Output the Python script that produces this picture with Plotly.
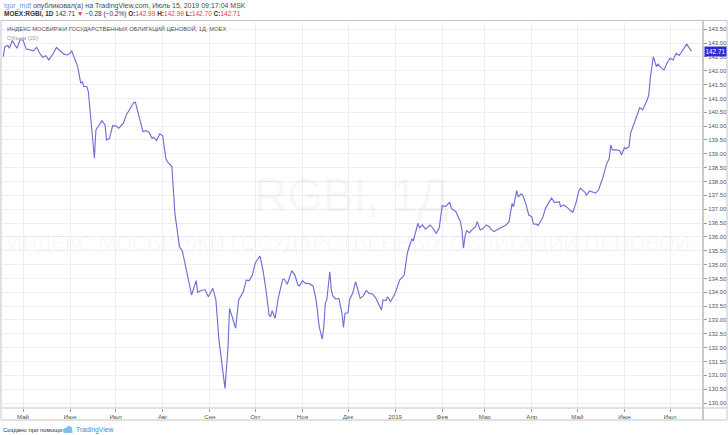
import plotly.graph_objects as go

# ---------------- data ----------------
dates_2018 = [
    "2018-04-18", "2018-04-19", "2018-04-21", "2018-04-22", "2018-04-24", "2018-04-26", "2018-04-27", "2018-04-29",
    "2018-05-01", "2018-05-03", "2018-05-06", "2018-05-08", "2018-05-10", "2018-05-12", "2018-05-14", "2018-05-16",
    "2018-05-18", "2018-05-21", "2018-05-23", "2018-05-25", "2018-05-28", "2018-05-30", "2018-06-01", "2018-06-02",
    "2018-06-04", "2018-06-06", "2018-06-08", "2018-06-09", "2018-06-10", "2018-06-12", "2018-06-13", "2018-06-15",
    "2018-06-17", "2018-06-18", "2018-06-20", "2018-06-22", "2018-06-24", "2018-06-25", "2018-06-27", "2018-06-29",
    "2018-07-01", "2018-07-03", "2018-07-05", "2018-07-06", "2018-07-08", "2018-07-10", "2018-07-13", "2018-07-14",
    "2018-07-17", "2018-07-19", "2018-07-21", "2018-07-23", "2018-07-25", "2018-07-26", "2018-07-28", "2018-07-30",
    "2018-08-01", "2018-08-03", "2018-08-04", "2018-08-07", "2018-08-09", "2018-08-12", "2018-08-14", "2018-08-17",
    "2018-08-20", "2018-08-23", "2018-08-24", "2018-08-27", "2018-08-29", "2018-08-31", "2018-09-03", "2018-09-05",
    "2018-09-07", "2018-09-11", "2018-09-13", "2018-09-14", "2018-09-18", "2018-09-20", "2018-09-23", "2018-09-25",
    "2018-09-27", "2018-09-29", "2018-10-01", "2018-10-04", "2018-10-06", "2018-10-08", "2018-10-10", "2018-10-11",
    "2018-10-12", "2018-10-14", "2018-10-16", "2018-10-19", "2018-10-20", "2018-10-22", "2018-10-25", "2018-10-27",
    "2018-10-29", "2018-10-30", "2018-11-01", "2018-11-03", "2018-11-05", "2018-11-08", "2018-11-10", "2018-11-12",
    "2018-11-14", "2018-11-15", "2018-11-16", "2018-11-17", "2018-11-19", "2018-11-20", "2018-11-21", "2018-11-23",
    "2018-11-25", "2018-11-27", "2018-11-28", "2018-11-29", "2018-12-01", "2018-12-02", "2018-12-04", "2018-12-06",
    "2018-12-07", "2018-12-09", "2018-12-11", "2018-12-13", "2018-12-15", "2018-12-17", "2018-12-19", "2018-12-21",
    "2018-12-23", "2018-12-24", "2018-12-26", "2018-12-27", "2018-12-29",
]
values_2018 = [
    142.51, 142.87, 142.91, 142.81, 143.09, 142.93, 142.81, 143.11,
    143.11, 142.79, 142.75, 142.72, 142.85, 142.63, 142.49, 142.54,
    142.39, 142.63, 142.84, 142.73, 142.60, 142.57, 142.63, 142.72,
    142.45, 142.15, 141.55, 141.61, 141.43, 141.43, 141.25, 140.04,
    138.84, 139.86, 140.04, 140.19, 140.04, 139.50, 139.56, 140.02,
    140.01, 139.92, 140.04, 140.10, 140.40, 140.59, 140.86, 140.86,
    140.16, 139.80, 139.84, 139.77, 139.56, 139.60, 139.48, 139.72,
    139.65, 138.84, 138.72, 138.54, 136.85, 135.65, 135.47, 134.69,
    133.90, 134.42, 134.00, 134.08, 134.08, 133.84, 134.14, 133.72,
    132.28, 130.53, 132.03, 133.42, 132.70, 133.72, 134.02, 134.44,
    134.42, 134.62, 135.07, 135.31, 134.80, 134.08, 133.18, 133.12,
    133.33, 133.06, 133.78, 134.47, 134.47, 134.29, 134.78, 134.62,
    134.26, 134.23, 134.42, 134.32, 134.32, 134.23, 133.72, 132.76,
    132.31, 132.73, 133.60, 133.72, 134.74, 134.08, 133.87, 133.75,
    133.78, 133.24, 132.73, 133.24, 133.26, 133.72, 133.96, 134.38,
    134.20, 133.78, 133.87, 134.06, 133.96, 133.94, 133.82, 133.60,
    133.36, 133.72, 133.70, 133.84, 133.66,
]
dates_2019 = [
    "2019-01-01", "2019-01-02", "2019-01-04", "2019-01-07", "2019-01-09", "2019-01-10", "2019-01-12", "2019-01-13",
    "2019-01-16", "2019-01-17", "2019-01-19", "2019-01-21", "2019-01-24", "2019-01-26", "2019-01-28", "2019-01-30",
    "2019-02-01", "2019-02-03", "2019-02-05", "2019-02-06", "2019-02-07", "2019-02-09", "2019-02-10", "2019-02-13",
    "2019-02-14", "2019-02-15", "2019-02-16", "2019-02-17", "2019-02-19", "2019-02-21", "2019-02-23", "2019-02-24",
    "2019-02-26", "2019-02-28", "2019-03-02", "2019-03-04", "2019-03-05", "2019-03-07", "2019-03-11", "2019-03-15",
    "2019-03-17", "2019-03-19", "2019-03-20", "2019-03-22", "2019-03-23", "2019-03-25", "2019-03-26", "2019-03-28",
    "2019-03-30", "2019-04-01", "2019-04-02", "2019-04-04", "2019-04-05", "2019-04-08", "2019-04-10", "2019-04-14",
    "2019-04-16", "2019-04-19", "2019-04-20", "2019-04-22", "2019-04-25", "2019-04-26", "2019-04-28", "2019-04-30",
    "2019-05-02", "2019-05-03", "2019-05-06", "2019-05-07", "2019-05-09", "2019-05-11", "2019-05-13", "2019-05-15",
    "2019-05-18", "2019-05-20", "2019-05-22", "2019-05-23", "2019-05-24", "2019-05-27", "2019-05-29", "2019-05-30",
    "2019-06-01", "2019-06-02", "2019-06-04", "2019-06-05", "2019-06-08", "2019-06-10", "2019-06-11", "2019-06-13",
    "2019-06-16", "2019-06-17", "2019-06-18", "2019-06-20", "2019-06-22", "2019-06-23", "2019-06-25", "2019-06-27",
    "2019-06-29", "2019-07-01", "2019-07-03", "2019-07-05", "2019-07-07", "2019-07-09", "2019-07-12", "2019-07-15",
]
values_2019 = [
    133.96, 134.14, 134.44, 134.62, 135.41, 135.59, 135.92, 135.86,
    136.49, 136.33, 136.43, 136.28, 136.43, 136.31, 136.13, 136.31,
    137.13, 137.09, 137.18, 137.25, 137.03, 136.95, 136.91, 136.55,
    136.25, 135.59, 136.01, 136.22, 136.15, 136.28, 136.37, 136.55,
    136.25, 136.31, 136.43, 136.37, 136.28, 136.19, 136.31, 136.43,
    136.55, 137.21, 137.09, 137.67, 137.45, 137.55, 137.51, 137.21,
    136.79, 136.73, 136.47, 136.46, 136.41, 136.67, 137.03, 137.40,
    137.24, 137.27, 137.09, 137.15, 137.03, 136.97, 136.89, 137.21,
    137.66, 137.76, 137.61, 137.51, 137.66, 137.63, 137.58, 137.70,
    138.18, 138.60, 138.84, 139.32, 139.14, 139.14, 139.10, 138.96,
    139.22, 139.18, 139.26, 139.74, 140.16, 140.50, 140.67, 140.59,
    140.95, 141.13, 141.73, 142.51, 142.15, 142.24, 142.11, 142.03,
    142.27, 142.45, 142.39, 142.63, 142.55, 142.72, 142.96, 142.71,
]
month_ticks = ["2018-05-01", "2018-06-01", "2018-07-01", "2018-08-01", "2018-09-01", "2018-10-01",
               "2018-11-01", "2018-12-01", "2019-01-01", "2019-02-01", "2019-03-01", "2019-04-01",
               "2019-05-01", "2019-06-01", "2019-07-01"]
month_labels = ["Май", "Июн", "Июл", "Авг", "Сен", "Окт", "Ноя", "Дек", "2019",
                "Фев", "Мар", "Апр", "Май", "Июн", "Июл"]
price_ticks = [130 + 0.5 * i for i in range(28)]
last_price = 142.71

dates = dates_2018 + dates_2019
values = values_2018 + values_2019

# ---------------- layout helpers (pixel -> paper) ----------------
W, H = 728, 435
L, R, T, B = 2, 703, 22, 408


def px(x):
    return (x - L) / (R - L)


def py(y):
    return (B - y) / (B - T)


FONT = "Liberation Sans, Arial, sans-serif"
RED = "#e0393e"

fig = go.Figure()
fig.add_trace(go.Scatter(
    x=dates, y=values, mode="lines",
    line=dict(color="#7070d4", width=1.15),
    hoverinfo="x+y", showlegend=False,
))

annotations = [
    dict(x=px(2), y=py(5.5), xref="paper", yref="paper", xanchor="left", yanchor="middle",
         showarrow=False, font=dict(size=7, color="#4a4a4a", family=FONT),
         text="<span style='color:#6a9be0'>igor_mdf</span> опубликовал(а) на TradingView.com, Июль 15, 2019 09:17:04 MSK"),
    dict(x=px(2), y=py(14), xref="paper", yref="paper", xanchor="left", yanchor="middle",
         showarrow=False, font=dict(size=6.5, color="#333333", family=FONT),
         text=("<b>MOEX:RGBI, 1D</b> 142.71 <span style='color:%s'>▼</span> −0.28 (−0.2%%) "
               "<b>O:</b><span style='color:%s'>142.99</span> <b>H:</b><span style='color:%s'>142.99</span> "
               "<b>L:</b><span style='color:%s'>142.70</span> <b>C:</b><span style='color:%s'>142.71</span>")
         % (RED, RED, RED, RED, RED)),
    dict(x=px(5), y=py(28.5), xref="paper", yref="paper", xanchor="left", yanchor="middle",
         showarrow=False, font=dict(size=5.8, color="#555555", family=FONT),
         text="ИНДЕКС МОСБИРЖИ ГОСУДАРСТВЕННЫХ ОБЛИГАЦИЙ ЦЕНОВОЙ, 1Д, MOEX"),
    dict(x=px(5), y=py(37.5), xref="paper", yref="paper", xanchor="left", yanchor="middle",
         showarrow=False, font=dict(size=6, color="#9a9a9a", family=FONT),
         text="Объем (20)"),
    # watermarks
    dict(x=px(351), y=py(195), xref="paper", yref="paper", xanchor="center", yanchor="middle",
         showarrow=False, font=dict(size=46, color="rgba(0,0,0,0.045)", family=FONT),
         text="RGBI, 1Д"),
    dict(x=px(348), y=py(242), xref="paper", yref="paper", xanchor="center", yanchor="middle",
         showarrow=False, font=dict(size=21, color="rgba(0,0,0,0.045)", family=FONT),
         text="ИНДЕКС МОСБИРЖИ ГОСУДАРСТВЕННЫХ ОБЛИГАЦИЙ ЦЕНОВОЙ"),
    # last price label
    dict(x=px(704), y=last_price, xref="paper", yref="y", xanchor="left", yanchor="middle",
         showarrow=False, font=dict(size=6.4, color="white", family=FONT),
         bgcolor="#2b2bd6", borderpad=1, width=19, align="center",
         text="%.2f" % last_price),
    # footer
    dict(x=px(1), y=py(429.5), xref="paper", yref="paper", xanchor="left", yanchor="middle",
         showarrow=False, font=dict(size=6.0, color="#333333", family=FONT),
         text="Создано при помощи"),
    dict(x=px(74), y=py(429.5), xref="paper", yref="paper", xanchor="left", yanchor="middle",
         showarrow=False, font=dict(size=6.8, color="#3a8fdc", family=FONT),
         text="TradingView"),
]

border = "#c4c4c8"
logo = "#7cc0ee"
shapes = [
    dict(type="rect", xref="paper", yref="paper", x0=px(1), x1=px(727), y0=py(20.5), y1=py(420),
         line=dict(color=border, width=1)),
    dict(type="line", xref="paper", yref="paper", x0=px(703), x1=px(703), y0=py(20.5), y1=py(420),
         line=dict(color="#b8b8bc", width=1.5)),
    dict(type="line", xref="paper", yref="paper", x0=px(1), x1=px(727), y0=py(408), y1=py(408),
         line=dict(color=border, width=1)),
    # TradingView logo (small cloud)
    dict(type="circle", xref="paper", yref="paper", x0=px(63), x1=px(68), y0=py(433), y1=py(428),
         fillcolor=logo, line=dict(width=0)),
    dict(type="circle", xref="paper", yref="paper", x0=px(66), x1=px(72), y0=py(432), y1=py(426),
         fillcolor=logo, line=dict(width=0)),
    dict(type="rect", xref="paper", yref="paper", x0=px(65), x1=px(72.5), y0=py(433), y1=py(430),
         fillcolor=logo, line=dict(width=0)),
]

fig.update_layout(
    width=W, height=H,
    margin=dict(l=L, r=W - R, t=T, b=H - B, autoexpand=False),
    paper_bgcolor="white", plot_bgcolor="white",
    font=dict(family=FONT, color="#555555"),
    annotations=annotations, shapes=shapes,
    showlegend=False,
    xaxis=dict(
        type="date", range=["2018-04-17 04:00", "2019-07-22 17:00"],
        tickvals=month_ticks, ticktext=month_labels,
        tickfont=dict(size=6.2, color="#555555"),
        ticks="outside", ticklen=3, tickcolor="#9a9a9a",
        showgrid=True, gridcolor="#eeeef2", gridwidth=1,
        zeroline=False, showline=False, fixedrange=True, automargin=False,
    ),
    yaxis=dict(
        side="right", range=[129.82, 143.76],
        tickvals=price_ticks, ticktext=["%.2f" % v for v in price_ticks],
        tickfont=dict(size=6, color="#555555"),
        ticks="outside", ticklen=3, tickcolor="#9a9a9a",
        showgrid=True, gridcolor="#eeeef2", gridwidth=1,
        zeroline=False, showline=False, fixedrange=True, automargin=False,
    ),
)

fig.write_html(
    "out.html",
    config={"displayModeBar": False},
    post_script="document.body.style.margin='0';document.body.style.overflow='hidden';",
)
